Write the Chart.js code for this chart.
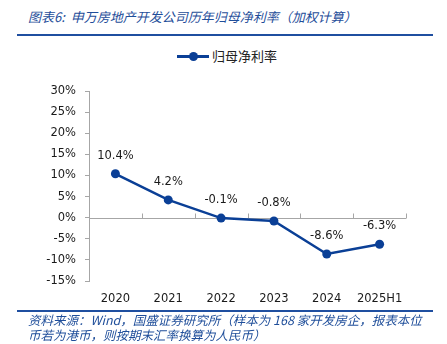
<!DOCTYPE html>
<html>
<head>
<meta charset="utf-8">
<script src="https://cdn.jsdelivr.net/npm/chart.js@4"></script>
<style>
  html, body { margin: 0; padding: 0; background: #fff; }
  #wrap { position: relative; width: 447px; height: 344px; overflow: hidden; }
  canvas { position: absolute; left: 0; top: 0; }
  .cap { position: absolute; font-family: "Noto Sans CJK SC", sans-serif; font-style: italic; color: #1f4e9a; white-space: nowrap; }
  .rule { position: absolute; left: 17px; width: 416px; height: 2px; background: #1f4fa0; }
  #title { left: 28px; top: 7px; font-size: 13px; }
  #src1 { left: 28px; top: 310px; font-size: 12.5px; }
  #src2 { left: 28px; top: 325px; font-size: 12.5px; }
  #legend { position: absolute; left: 177px; top: 47px; height: 18px; font-family: "Noto Sans CJK SC", sans-serif; font-size: 13px; color: #222; }
  #legend .ln { position: absolute; left: 0; top: 8px; width: 32px; height: 3px; background: #0a3f96; }
  #legend .dot { position: absolute; left: 12px; top: 5px; width: 9px; height: 9px; border-radius: 50%; background: #0a3f96; }
  #legend .txt { position: absolute; left: 35px; top: -1px; white-space: nowrap; }
</style>
</head>
<body>
<div id="wrap">
  <div id="title" class="cap">图表6:&nbsp; 申万房地产开发公司历年归母净利率（加权计算）</div>
  <div class="rule" style="top:34px"></div>
  <div id="legend"><div class="ln"></div><div class="dot"></div><div class="txt">归母净利率</div></div>
  <canvas id="chart" width="447" height="344"></canvas>
  <div class="rule" style="top:310px"></div>
  <div id="src1" class="cap">资料来源：Wind，国盛证券研究所（样本为 168 家开发房企，报表本位</div>
  <div id="src2" class="cap">币若为港币，则按期末汇率换算为人民币）</div>
</div>
<script>
const years = ['2020', '2021', '2022', '2023', '2024', '2025H1'];
const netMargin = [10.4, 4.2, -0.1, -0.8, -8.6, -6.3];
const yTicks = [30, 25, 20, 15, 10, 5, 0, -5, -10, -15];

const lineColor = '#0a3f96';
const axisColor = '#a6a6a6';
const tickFont = { family: 'DejaVu Sans', size: 11.5 };

// value labels above each point
const valueLabels = {
    id: 'valueLabels',
    afterDatasetsDraw(chart) {
        const ctx = chart.ctx;
        const meta = chart.getDatasetMeta(0);
        ctx.save();
        ctx.font = '11.5px "DejaVu Sans"';
        ctx.fillStyle = '#1a1a1a';
        ctx.textAlign = 'center';
        ctx.textBaseline = 'middle';
        meta.data.forEach((pt, i) => {
            ctx.fillText(netMargin[i].toFixed(1) + '%', pt.x, pt.y - 18);
        });
        ctx.restore();
    }
};

// horizontal axis line at 0% with category tick marks
const zeroAxis = {
    id: 'zeroAxis',
    beforeDatasetsDraw(chart) {
        const ctx = chart.ctx;
        const area = chart.chartArea;
        const y0 = Math.round(chart.scales.y.getPixelForValue(0)) + 0.5;
        const step = (area.right - area.left) / years.length;
        ctx.save();
        ctx.strokeStyle = axisColor;
        ctx.lineWidth = 1;
        ctx.beginPath();
        ctx.moveTo(area.left, y0);
        ctx.lineTo(area.right, y0);
        for (let i = 1; i <= years.length; i++) {
            const x = Math.round(area.left + step * i) + 0.5;
            ctx.moveTo(x, y0);
            ctx.lineTo(x, y0 - 5);
        }
        ctx.stroke();
        ctx.restore();
    }
};

new Chart(document.getElementById('chart'), {
    type: 'line',
    data: {
        labels: years,
        datasets: [{
            label: '归母净利率',
            data: netMargin,
            borderColor: lineColor,
            backgroundColor: lineColor,
            borderWidth: 2.5,
            pointRadius: 4.5,
            pointBackgroundColor: lineColor,
            pointBorderWidth: 0,
            tension: 0
        }]
    },
    options: {
        responsive: false,
        animation: false,
        layout: { padding: { left: 0, right: 41, top: 91, bottom: 38 } },
        plugins: {
            legend: { display: false },
            tooltip: { enabled: false }
        },
        scales: {
            x: {
                offset: true,
                grid: { display: false },
                border: { display: false },
                ticks: { color: '#1a1a1a', font: tickFont, padding: 3, maxRotation: 0 },
                afterFit(scale) { scale.height = 25; }
            },
            y: {
                min: -15,
                max: 30,
                afterBuildTicks(scale) { scale.ticks = yTicks.map(v => ({ value: v })); },
                ticks: {
                    color: '#1a1a1a',
                    font: tickFont,
                    padding: 9,
                    callback: v => v + '%'
                },
                grid: { drawOnChartArea: false, tickLength: 4, color: axisColor },
                border: { color: axisColor },
                afterFit(scale) { scale.width = 89; }
            }
        }
    },
    plugins: [zeroAxis, valueLabels]
});
</script>
</body>
</html>
